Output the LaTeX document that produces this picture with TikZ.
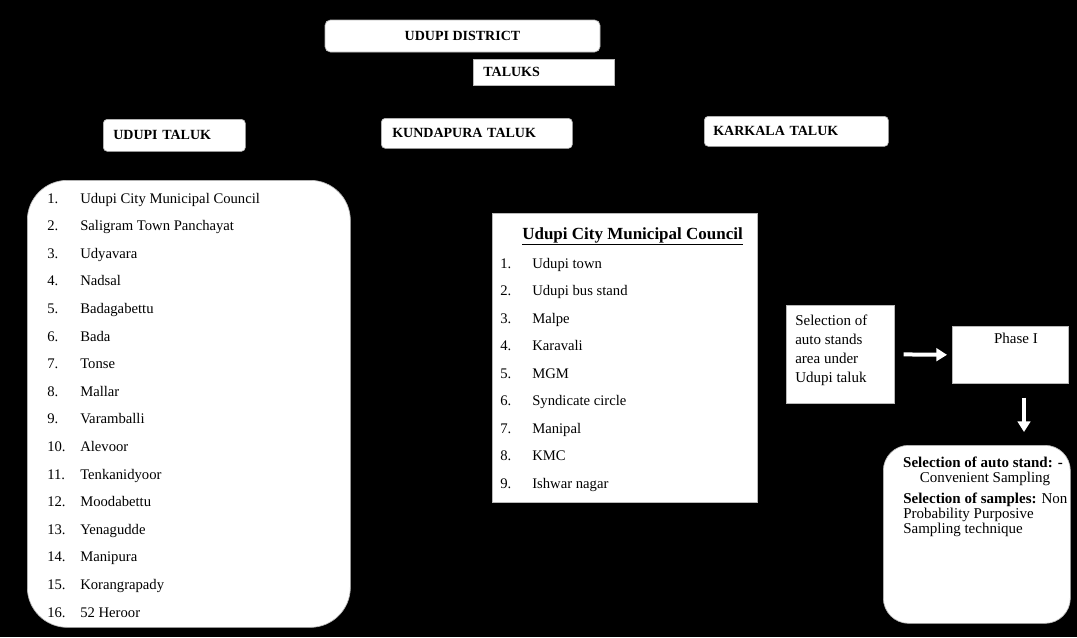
\documentclass[tikz,border=0pt]{standalone}
\usepackage{fontspec}
\setmainfont{Liberation Serif}
\usetikzlibrary{arrows.meta,calc}
\begin{document}
\begin{tikzpicture}[x=0.75pt,y=-0.75pt,
  wbox/.style={fill=white,draw=gray!55,line width=0.5pt,inner sep=0pt},
  hdr/.style={font=\fontsize{10.5}{12}\selectfont\bfseries},
  item/.style={font=\fontsize{11}{13}\selectfont,anchor=base west,inner sep=0pt},
  txt/.style={font=\fontsize{11.25}{13}\selectfont,inner sep=0pt},
  warrow/.style={draw=white,line width=3pt,-{Triangle[length=8pt,width=9.5pt]}}]
\useasboundingbox (0,0) rectangle (1077,637);
\fill[black] (0,0) rectangle (1077,637);

% top boxes
\node (dist) [wbox, rounded corners=4pt, minimum width=206.25pt, minimum height=24pt, hdr] at (462.5,36) {UDUPI DISTRICT};
\node (tal) [wbox, anchor=north west, minimum height=19.5pt, text width=90.75pt, inner xsep=7.5pt, align=left, hdr] at (473,59) {TALUKS};

% taluk boxes
\node (ut) [wbox, rounded corners=3pt, anchor=north west, minimum height=24pt, text width=91.5pt, inner xsep=7.5pt, align=left, hdr] at (103,119) {UDUPI TALUK};
\node (kt) [wbox, rounded corners=3pt, anchor=north west, minimum height=22.5pt, text width=126.75pt, inner xsep=8.25pt, align=left, hdr] at (381,118) {KUNDAPURA TALUK};
\node (kk) [wbox, rounded corners=3pt, anchor=north west, minimum height=22.5pt, text width=124.5pt, inner xsep=6.75pt, align=left, hdr] at (704,116) {KARKALA TALUK};

% left list box
\node (lbox) [wbox, rounded corners=30pt, anchor=north west, minimum width=242.25pt, minimum height=335.25pt] at (27,180) {};
\foreach \t [count=\i] in {Udupi City Municipal Council, Saligram Town Panchayat, Udyavara, Nadsal, Badagabettu, Bada, Tonse, Mallar, Varamballi, Alevoor, Tenkanidyoor, Moodabettu, Yenagudde, Manipura, Korangrapady, 52 Heroor}{
  \node[item] (ln\i) at (47,{203+27.6*(\i-1)}) {\i.};
  \node[item] (lt\i) at (80,{203+27.6*(\i-1)}) {\t};
}

% middle list box
\node (mbox) [wbox, anchor=north west, minimum width=198.75pt, minimum height=216.75pt] at (492,213) {};
\node (mt) [anchor=base west, inner sep=0pt, font=\fontsize{12.75}{14}\selectfont\bfseries] at (522,239) {\underline{Udupi City Municipal Council}};
\foreach \t [count=\i] in {Udupi town, Udupi bus stand, Malpe, Karavali, MGM, Syndicate circle, Manipal, KMC, Ishwar nagar}{
  \node[item] (mn\i) at (500,{268+27.5*(\i-1)}) {\i.};
  \node[item] (mi\i) at (532,{268+27.5*(\i-1)}) {\t};
}

% selection box
\node (sel) [wbox, anchor=north west, minimum width=81pt, minimum height=73.5pt] at (786,305) {};
\foreach \t [count=\i] in {Selection of, auto stands, area under, Udupi taluk}{
  \node[txt, anchor=base west] (s\i) at (795,{325+19*(\i-1)}) {\t};
}

% phase box
\node (ph) [wbox, anchor=north west, minimum width=87pt, minimum height=42.75pt] at (952,326) {};
\node[txt, anchor=base] (pht) at (1016,343) {Phase I};

% bottom box
\node (bot) [wbox, rounded corners=19pt, anchor=north west, minimum width=140.25pt, minimum height=133.5pt] at (883,445) {};
\node[txt, anchor=base] (b1) at (983,467) {\textbf{Selection of auto stand: -}};
\node[txt, anchor=base] (b2) at (985,482) {Convenient Sampling};
\node[txt, anchor=base west] (b3) at (903,503) {\textbf{Selection of samples:} Non};
\node[txt, anchor=base west] (b4) at (903,518) {Probability Purposive};
\node[txt, anchor=base west] (b5) at (903,533) {Sampling technique};

% arrows
\draw[warrow, shorten <=6.75pt, shorten >=3.75pt] (sel.east) -- (ph.west);
\coordinate (ax) at (1024,400);
\draw[warrow, shorten <=10.5pt, shorten >=9.75pt] (ax |- ph.south) -- (ax |- bot.north);
\end{tikzpicture}
\end{document}
